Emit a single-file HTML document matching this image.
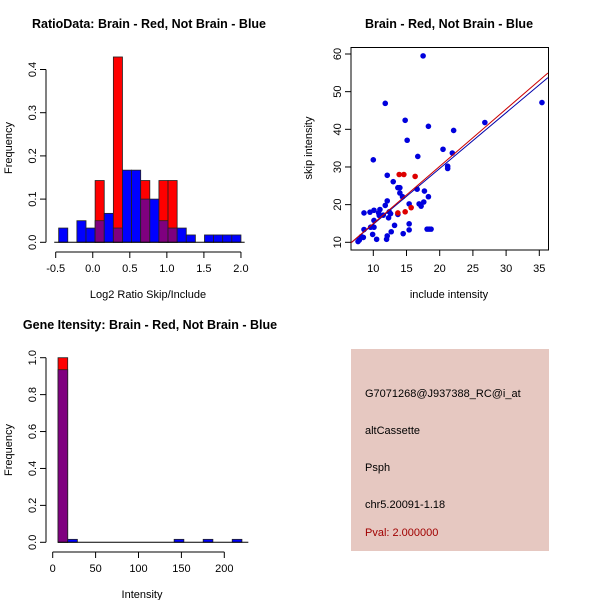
<!DOCTYPE html>
<html><head><meta charset="utf-8"><style>
body{margin:0;background:#fff}
svg text{font-family:"Liberation Sans",sans-serif;fill:#000}
.t{font-weight:bold;font-size:12.5px}
.a{font-size:11px}
</style></head><body>
<svg id="s" width="600" height="600" xmlns="http://www.w3.org/2000/svg">
<rect width="600" height="600" fill="#fff"/>
<text class="t" x="149" y="28" text-anchor="middle">RatioData: Brain - Red, Not Brain - Blue</text>
<text class="t" x="449" y="28" text-anchor="middle">Brain - Red, Not Brain - Blue</text>
<text class="t" x="150" y="329" text-anchor="middle">Gene Itensity: Brain - Red, Not Brain - Blue</text>
<text class="a" x="148" y="298" text-anchor="middle">Log2 Ratio Skip/Include</text>
<text class="a" transform="translate(12,148) rotate(-90)" text-anchor="middle">Frequency</text>
<text class="a" x="449" y="298" text-anchor="middle">include intensity</text>
<text class="a" transform="translate(312,148) rotate(-90)" text-anchor="middle">skip intensity</text>
<text class="a" x="142" y="598" text-anchor="middle">Intensity</text>
<text class="a" transform="translate(12,450) rotate(-90)" text-anchor="middle">Frequency</text>
<g>
<rect x="351" y="349" width="198" height="202" fill="#e6c8c1"/>
<text class="a" x="365" y="397">G7071268@J937388_RC@i_at</text>
<text class="a" x="365" y="434">altCassette</text>
<text class="a" x="365" y="471">Psph</text>
<text class="a" x="365" y="508">chr5.20091-1.18</text>
<text class="a" x="365" y="536" style="fill:#a00000">Pval: 2.000000</text>
</g>
</svg>
<script>
const ratioBlue=[0.033,0,0.05,0.033,0.05,0.067,0.033,0.167,0.167,0.1,0.1,0.05,0.033,0.033,0.017,0,0.017,0.017,0.017,0.017];
const ratioRed=[0,0,0,0,0.143,0,0.429,0,0,0.143,0,0.143,0.143,0,0,0,0,0,0,0];
const ratioXTicks=["-0.5","0.0","0.5","1.0","1.5","2.0"];
const ratioYTicks=["0.0","0.1","0.2","0.3","0.4"];
const intBlue=[0.935,0.016,0,0,0,0,0,0,0,0,0,0,0.016,0,0,0.016,0,0,0.016];
const intRed=[1.0,0,0,0,0,0,0,0,0,0,0,0,0,0,0,0,0,0,0];
const intXTicks=["0","50","100","150","200"];
const intYTicks=["0.0","0.2","0.4","0.6","0.8","1.0"];
const blueX=[7.7,7.9,8.2,8.5,8.6,8.6,9.5,10.1,9.6,10.1,10.1,9.9,10.5,10,10.8,11,10.9,11.5,11.8,11.8,12.1,12.1,12,12.1,12.3,12.4,12.6,12.7,13,13.2,13.7,13.7,14,14,14.4,14.5,14.8,15.1,15.4,15.4,15.4,16.7,16.6,16.9,17.2,17.5,17.6,17.7,18.3,18.3,18.1,18.4,18.7,20.5,21.2,21.2,22.1,21.9,26.8,35.4];
const blueY=[10.2,10.6,11.5,11.3,13.4,17.8,18,18.5,14,14,15.8,12.1,10.8,31.9,17.8,18.7,17.1,17.2,46.9,19.8,21,27.8,10.8,11.7,16.5,18.1,17.6,12.8,26.1,14.5,17.4,24.5,24.5,23.1,22.1,12.3,42.4,37.1,20.2,14.9,13.3,32.8,24.1,20.2,19.6,59.5,20.7,23.6,40.8,22.1,13.5,13.5,13.5,34.7,30.2,29.6,39.7,33.7,41.8,47.1];
const redX=[13.9,14.6,16.3,13.7,14.8,15.7];
const redY=[28,28,27.5,17.8,18.1,19.2];
const scXTicks=[10,15,20,25,30,35];
const scYTicks=[10,20,30,40,50,60];
const redFit=[-0.23,1.52];
const blueFit=[0.0,1.48];
const NS="http://www.w3.org/2000/svg";
const svg=document.getElementById('s');
function mk(tag,attrs,parent){const e=document.createElementNS(NS,tag);for(const k in attrs)e.setAttribute(k,attrs[k]);(parent||svg).appendChild(e);return e;}
function axisX(g,ticks,sx,y0,x1,x2){mk('line',{x1:x1,x2:x2,y1:y0,y2:y0,stroke:'#000'},g);ticks.forEach(t=>{const x=sx(parseFloat(t));mk('line',{x1:x,x2:x,y1:y0,y2:y0+6,stroke:'#000'},g);const tx=mk('text',{x:x,y:y0+20,'text-anchor':'middle','font-size':'11px'},g);tx.textContent=t;});}
function axisY(g,ticks,sy,x0,y1,y2){mk('line',{x1:x0,x2:x0,y1:y1,y2:y2,stroke:'#000'},g);ticks.forEach(t=>{const y=sy(parseFloat(t));mk('line',{x1:x0-6,x2:x0,y1:y,y2:y,stroke:'#000'},g);const tx=mk('text',{transform:`translate(${x0-10},${y}) rotate(-90)`,'text-anchor':'middle','font-size':'11px'},g);tx.textContent=t;});}
function hist(name,blue,red,x0,bw,sx,sy){
 const g=mk('g',{});
 
 
 const b0=sy(0);
 for(let i=0;i<blue.length;i++){
  const xa=sx(x0+i*bw),xb=sx(x0+(i+1)*bw);
  const hi=Math.max(blue[i],red[i]),lo=Math.min(blue[i],red[i]);
  if(hi<=0)continue;
  const top=mk('rect',{x:xa,y:sy(hi),width:xb-xa,height:b0-sy(hi),fill:blue[i]>=red[i]?'#0000ff':'#ff0000',stroke:'#222','stroke-width':0.8},g);
  
  
  if(lo>0){const p=mk('rect',{x:xa,y:sy(lo),width:xb-xa,height:b0-sy(lo),fill:'#7f007f',stroke:'#222','stroke-width':0.8},g);
  
  }
 }
 return g;
}
// Panel 1
const r_sx=v=>55.7+(v+0.5)*74.1, r_sy=v=>242.3-v*432;
const g1=hist('ratio-histogram',ratioBlue,ratioRed,-0.46,0.123,r_sx,r_sy);
axisX(g1,ratioXTicks,r_sx,252,r_sx(-0.5),r_sx(2.0));
axisY(g1,ratioYTicks,r_sy,46,r_sy(0),r_sy(0.4));
mk('line',{x1:r_sx(-0.52),x2:r_sx(2.05),y1:r_sy(0),y2:r_sy(0),stroke:'#000'},g1);
// Panel 3
const i_sx=v=>52.7+v*0.858, i_sy=v=>542.3-v*184.6;
const g3=hist('intensity-histogram',intBlue,intRed,6.2,11.28,i_sx,i_sy);
axisX(g3,intXTicks,i_sx,552,i_sx(0),i_sx(200));
axisY(g3,intYTicks,i_sy,46,i_sy(0),i_sy(1));
mk('line',{x1:i_sx(6),x2:i_sx(228),y1:i_sy(0),y2:i_sy(0),stroke:'#000'},g3);
// Panel 2 scatter
const s_sx=v=>373.3+(v-10)*6.64, s_sy=v=>242.3-(v-10)*3.766;
const g2=mk('g',{});


mk('rect',{x:351,y:47.5,width:197.5,height:202.5,fill:'none',stroke:'#000'},g2);
scXTicks.forEach(t=>{const x=s_sx(t);mk('line',{x1:x,x2:x,y1:250,y2:256,stroke:'#000'},g2);const tx=mk('text',{x:x,y:272,'text-anchor':'middle','font-size':'11px'},g2);tx.textContent=t;});
scYTicks.forEach(t=>{const y=s_sy(t);mk('line',{x1:345,x2:351,y1:y,y2:y,stroke:'#000'},g2);const tx=mk('text',{transform:`translate(341,${y}) rotate(-90)`,'text-anchor':'middle','font-size':'11px'},g2);tx.textContent=t;});
blueX.forEach((x,i)=>{const c=mk('circle',{cx:s_sx(x),cy:s_sy(blueY[i]),r:2.8,fill:'#0000dd'},g2);

});
redX.forEach((x,i)=>{const c=mk('circle',{cx:s_sx(x),cy:s_sy(redY[i]),r:2.8,fill:'#dd0000'},g2);

});
[[blueFit,'#0000aa','fit-line-not-brain'],[redFit,'#cc0000','fit-line-brain']].forEach(([f,col,n])=>{const xa=6.65,xb=36.3;
const l=mk('line',{x1:s_sx(xa),y1:s_sy(f[0]+f[1]*xa),x2:s_sx(xb),y2:s_sy(f[0]+f[1]*xb),stroke:col,'stroke-width':1},g2);

});
</script>
</body></html>
